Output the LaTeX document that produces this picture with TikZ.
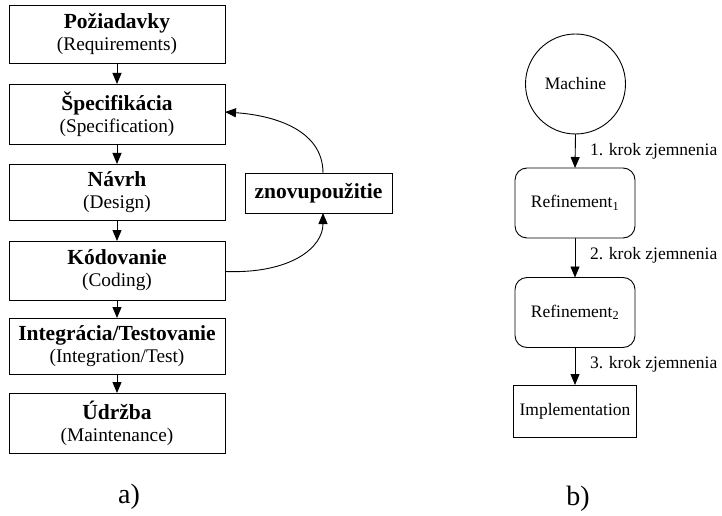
\documentclass[tikz,border=0pt]{standalone}
\usepackage{fontspec}
\setmainfont{Liberation Serif}
\usetikzlibrary{arrows.meta,calc}
\begin{document}
\begin{tikzpicture}[x=1pt,y=1pt,
  every node/.style={inner sep=0pt,outer sep=0pt},
  phase/.style={draw,line width=0.9pt,minimum width=216pt,align=center,font=\fontsize{19.3}{22}\selectfont},
  stepbox/.style={draw,line width=0.9pt,rounded corners=12pt,minimum width=120pt,minimum height=70pt,font=\fontsize{17.5}{20}\selectfont},
  arr/.style={-{Triangle[length=11pt,width=9pt]},line width=0.9pt},
  lbl/.style={font=\fontsize{17.5}{20}\selectfont,anchor=west},
  tt/.style={font=\fontsize{21.5}{22}\selectfont\bfseries}
]
\useasboundingbox (0,0) rectangle (722,515);
% left column
\node[phase,minimum height=58pt] (p1) at (117,481) {{\fontsize{21.5}{22}\selectfont\bfseries Požiadavky}\\(Requirements)};
\node[phase,minimum height=60pt] (p2) at (117,401) {{\fontsize{21.5}{22}\selectfont\bfseries Špecifikácia}\\(Specification)};
\node[phase,minimum height=56pt] (p3) at (117,323) {{\fontsize{21.5}{22}\selectfont\bfseries Návrh}\\(Design)};
\node[phase,minimum height=59pt] (p4) at (117,244.5) {{\fontsize{21.5}{22}\selectfont\bfseries Kódovanie}\\(Coding)};
\node[phase,minimum height=56pt] (p5) at (117,169) {{\fontsize{21.5}{22}\selectfont\bfseries Integrácia/Testovanie}\\(Integration/Test)};
\node[phase,minimum height=60pt] (p6) at (117,92) {{\fontsize{21.5}{22}\selectfont\bfseries Údržba}\\(Maintenance)};
\node[draw,line width=0.9pt,minimum width=147pt,minimum height=40pt,tt] (re) at (318.5,322) {znovupoužitie};
\foreach \a/\b in {p1/p2,p2/p3,p3/p4,p4/p5,p5/p6}
  \draw[arr] (\a.south) -- (\b.north);
\coordinate (reb) at ([xshift=4.5pt]re.south);
\coordinate (ret) at ([xshift=4.5pt]re.north);
\draw[arr] ([yshift=-1pt]p4.east) .. controls (290,241) and ($(reb)+(0,-35)$) .. (reb);
\draw[arr] (ret) .. controls ($(ret)+(0,45)$) and (270,400) .. ([yshift=2pt]p2.east);
\node[font=\fontsize{28}{30}\selectfont] (la) at (129,18) {a)};
% right column
\node[draw,circle,line width=0.9pt,minimum size=100pt,font=\fontsize{17.5}{20}\selectfont] (m) at (575.5,431) {Machine};
\node[stepbox] (r1) at (575,312) {Refinement\textsubscript{1}};
\node[stepbox] (r2) at (575,202.5) {Refinement\textsubscript{2}};
\node[draw,line width=0.9pt,minimum width=123pt,minimum height=52pt,font=\fontsize{17.5}{20}\selectfont] (im) at (575,104) {Implementation};
\draw[arr] (m.south) -- (r1.north);
\draw[arr] (r1.south) -- (r2.north);
\draw[arr] (r2.south) -- (im.north);
\node[lbl] (l1) at (590,364) {1. krok zjemnenia};
\node[lbl] (l2) at (590,260) {2. krok zjemnenia};
\node[lbl] (l3) at (590,151) {3. krok zjemnenia};
\node[font=\fontsize{28}{30}\selectfont] (lb) at (578,16) {b)};
\end{tikzpicture}
\end{document}
